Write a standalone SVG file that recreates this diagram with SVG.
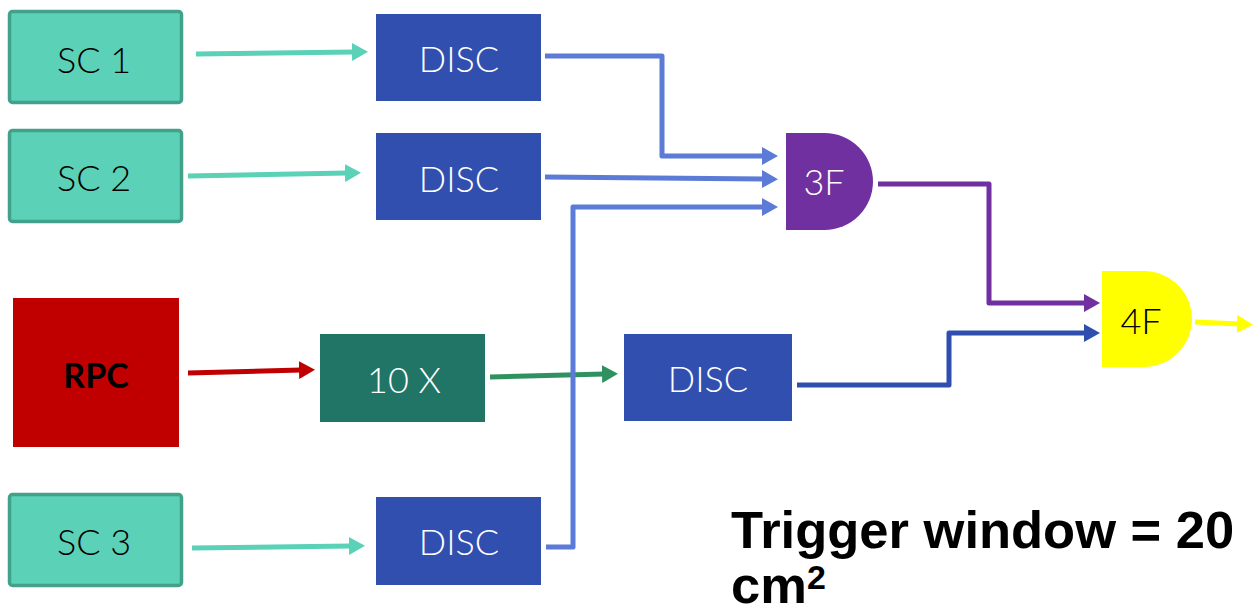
<svg xmlns="http://www.w3.org/2000/svg" width="1254" height="608" viewBox="0 0 1254 608">
  <style>
    .sc { fill: #5BD1B8; stroke: #43A08A; stroke-width: 3.5; }
    .disc { fill: #314FAF; }
    .lbl { font-family: Lato, "Open Sans", sans-serif; font-weight: 300; font-size: 36px; text-anchor: middle; }
    .dark { fill: #000000; }
    .light { fill: #FFFFFF; }
    .wire { fill: none; stroke-width: 5; stroke-linejoin: round; }
    .note { font-family: "Liberation Sans", Arial, sans-serif; font-weight: bold; font-size: 52.5px; fill: #000000; }
  </style>
  <defs>
    <marker id="ah-teal" markerUnits="userSpaceOnUse" markerWidth="16" markerHeight="18" refX="2" refY="9" orient="auto"><path d="M0,0 L16,9 L0,18 Z" fill="#5BD1B8"/></marker>
    <marker id="ah-blue" markerUnits="userSpaceOnUse" markerWidth="16" markerHeight="18" refX="2" refY="9" orient="auto"><path d="M0,0 L16,9 L0,18 Z" fill="#5B7BD6"/></marker>
    <marker id="ah-red" markerUnits="userSpaceOnUse" markerWidth="16" markerHeight="18" refX="2" refY="9" orient="auto"><path d="M0,0 L16,9 L0,18 Z" fill="#C00000"/></marker>
    <marker id="ah-green" markerUnits="userSpaceOnUse" markerWidth="16" markerHeight="18" refX="2" refY="9" orient="auto"><path d="M0,0 L16,9 L0,18 Z" fill="#2F9160"/></marker>
    <marker id="ah-purple" markerUnits="userSpaceOnUse" markerWidth="16" markerHeight="18" refX="2" refY="9" orient="auto"><path d="M0,0 L16,9 L0,18 Z" fill="#7030A0"/></marker>
    <marker id="ah-navy" markerUnits="userSpaceOnUse" markerWidth="16" markerHeight="18" refX="2" refY="9" orient="auto"><path d="M0,0 L16,9 L0,18 Z" fill="#2F4FAF"/></marker>
    <marker id="ah-yellow" markerUnits="userSpaceOnUse" markerWidth="16" markerHeight="18" refX="2" refY="9" orient="auto"><path d="M0,0 L16,9 L0,18 Z" fill="#FFFF00"/></marker>
  </defs>

  <rect width="1254" height="608" fill="#FFFFFF"/>

  <!-- connectors -->
  <g id="connectors">
    <path class="wire" stroke="#5BD1B8" d="M196,54 L354,52" marker-end="url(#ah-teal)"/>
    <path class="wire" stroke="#5BD1B8" d="M188,176 L347,173" marker-end="url(#ah-teal)"/>
    <path class="wire" stroke="#5BD1B8" d="M192,548 L351,546" marker-end="url(#ah-teal)"/>
    <path class="wire" stroke="#C00000" d="M188,373 L301,370" marker-end="url(#ah-red)"/>
    <path class="wire" stroke="#2F9160" d="M490,377 L604,374" marker-end="url(#ah-green)"/>
    <path class="wire" stroke="#5B7BD6" d="M545,56 H662 V156 H764" marker-end="url(#ah-blue)"/>
    <path class="wire" stroke="#5B7BD6" d="M545,177 L764,179" marker-end="url(#ah-blue)"/>
    <path class="wire" stroke="#5B7BD6" d="M546,547 H573 V207 H764" marker-end="url(#ah-blue)"/>
    <path class="wire" stroke="#7030A0" d="M878,184 H989 V303 H1086" marker-end="url(#ah-purple)"/>
    <path class="wire" stroke="#2F4FAF" d="M797,385 H949 V333 H1086" marker-end="url(#ah-navy)"/>
    <path class="wire" stroke="#FFFF00" d="M1195,322 L1239,324" marker-end="url(#ah-yellow)"/>
  </g>

  <!-- scintillator counters -->
  <g id="sc1">
    <rect class="sc" x="9.5" y="11.5" width="172" height="91" rx="3"/>
    <text class="lbl dark" x="94" y="73">SC 1</text>
  </g>
  <g id="sc2">
    <rect class="sc" x="9.5" y="130.5" width="172" height="91" rx="3"/>
    <text class="lbl dark" x="94" y="191">SC 2</text>
  </g>
  <g id="sc3">
    <rect class="sc" x="9.5" y="494.5" width="172" height="91" rx="3"/>
    <text class="lbl dark" x="94" y="555">SC 3</text>
  </g>

  <!-- discriminators -->
  <g id="disc1">
    <rect class="disc" x="376" y="14" width="165" height="87"/>
    <text class="lbl light" x="459" y="72">DISC</text>
  </g>
  <g id="disc2">
    <rect class="disc" x="376" y="133" width="165" height="87"/>
    <text class="lbl light" x="459" y="192">DISC</text>
  </g>
  <g id="disc3">
    <rect class="disc" x="376" y="497" width="165" height="88"/>
    <text class="lbl light" x="459" y="555">DISC</text>
  </g>
  <g id="disc4">
    <rect class="disc" x="624" y="334" width="168" height="87"/>
    <text class="lbl light" x="708" y="392">DISC</text>
  </g>

  <!-- RPC and amplifier -->
  <g id="rpc">
    <rect x="13" y="298" width="166" height="149" fill="#C00000"/>
    <text x="96" y="388" font-family="Lato, 'Open Sans', sans-serif" font-weight="bold" font-size="34" text-anchor="middle" fill="#000000">RPC</text>
  </g>
  <g id="amp10x">
    <rect x="320" y="334" width="165" height="88" fill="#217566"/>
    <text class="lbl light" x="404" y="393">10 X</text>
  </g>

  <!-- coincidence units -->
  <g id="coinc3f">
    <path d="M786,133 H824.5 A48.5,48.5 0 0 1 824.5,230 H786 Z" fill="#7030A0"/>
    <text class="lbl light" x="824" y="195">3F</text>
  </g>
  <g id="coinc4f">
    <path d="M1102,271 H1144 A48,48 0 0 1 1144,367 H1102 Z" fill="#FFFF00"/>
    <text class="lbl dark" x="1141" y="334">4F</text>
  </g>

  <!-- annotation -->
  <g id="note">
    <text class="note" x="731" y="548">Trigger window = 20</text>
    <text class="note" x="731" y="603">cm<tspan font-size="34" dy="-14">2</tspan></text>
  </g>
</svg>
